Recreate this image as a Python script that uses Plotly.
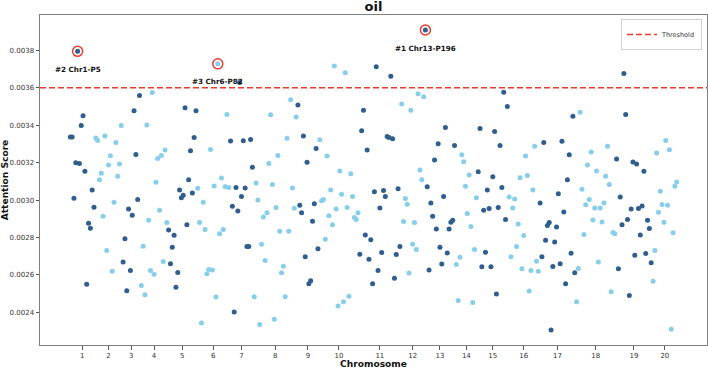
import plotly.graph_objects as go

# ---------------- data ----------------
chromosomes = list(range(1, 21))
chr1 = [0.003337, 0.003337, 0.003010, 0.003200, 0.003795, 0.003196, 0.003399, 0.003451, 0.003154, 0.002551, 0.002876, 0.002850, 0.003054, 0.002962]
chr2 = [0.003332, 0.003319, 0.003109, 0.003143, 0.002914, 0.003342, 0.002731, 0.003188, 0.003237, 0.002620, 0.002988, 0.003308, 0.003127, 0.003193, 0.003399]
chr3 = [0.002670, 0.002793, 0.002516, 0.002953, 0.002624, 0.002919, 0.003477, 0.003244, 0.003003, 0.003559]
chr4 = [0.002544, 0.002754, 0.002494, 0.003401, 0.002892, 0.002624, 0.003575, 0.002604, 0.003095, 0.003223, 0.002946, 0.003239, 0.002672, 0.003268, 0.002880]
chr5 = [0.002841, 0.002660, 0.002748, 0.002812, 0.002535, 0.002613, 0.003054, 0.003013, 0.003026, 0.003493, 0.002869, 0.003109, 0.003264, 0.003038, 0.003335, 0.003477]
chr6 = [0.003063, 0.002880, 0.002343, 0.002988, 0.002843, 0.002607, 0.002629, 0.003271, 0.002626, 0.003076, 0.002482, 0.003728, 0.002820, 0.003118, 0.002843, 0.003072, 0.003458, 0.003067]
chr7 = [0.003316, 0.002967, 0.002402, 0.003067, 0.002942, 0.003628, 0.003020, 0.003317, 0.003065, 0.002752, 0.002752, 0.003324, 0.003175]
chr8 = [0.002484, 0.003092, 0.003000, 0.002335, 0.002764, 0.002910, 0.002677, 0.002933, 0.003196, 0.003456, 0.003083, 0.002363, 0.002960, 0.003239, 0.002834, 0.002612, 0.002647, 0.002484, 0.003330, 0.002834, 0.003536, 0.003065, 0.002956, 0.003444]
chr9 = [0.003508, 0.002973, 0.002933, 0.003342, 0.002697, 0.003202, 0.002553, 0.002569, 0.002887, 0.002980, 0.003276, 0.002740]
chr10 = [0.003323, 0.002997, 0.003003, 0.002791, 0.003236, 0.002916, 0.003054, 0.002869, 0.003717, 0.002953, 0.002434, 0.003156, 0.003031, 0.002457, 0.003680, 0.002960, 0.002487, 0.003141, 0.003020, 0.002907, 0.002896, 0.002933]
chr11 = [0.002711, 0.003371, 0.003480, 0.002814, 0.003268, 0.002684, 0.002788, 0.002553, 0.003045, 0.003712, 0.002624, 0.002958, 0.002720, 0.003052, 0.003020, 0.003340, 0.003335, 0.003662, 0.003328, 0.002583, 0.002710, 0.003061, 0.002752]
chr12 = [0.003513, 0.002886, 0.003008, 0.002978, 0.002610, 0.003480, 0.002764, 0.002880, 0.002736, 0.003568, 0.003161, 0.003109, 0.003552]
chr13 = [0.003909, 0.003071, 0.002627, 0.002985, 0.002914, 0.003214, 0.002846, 0.003301, 0.002748, 0.002658, 0.003019, 0.003388, 0.002718, 0.002846, 0.002882, 0.002892, 0.003292]
chr14 = [0.002656, 0.002463, 0.002695, 0.003243, 0.003205, 0.003074, 0.002929, 0.003134, 0.002859, 0.002453, 0.002736, 0.003012]
chr15 = [0.003152, 0.003383, 0.002644, 0.002946, 0.002722, 0.003054, 0.002955, 0.002644, 0.003125, 0.003367, 0.002498, 0.002960, 0.003292, 0.003068, 0.003577, 0.002896, 0.003500]
chr16 = [0.003017, 0.002697, 0.002958, 0.003006, 0.002752, 0.002873, 0.003120, 0.002633, 0.002811, 0.003236, 0.003132, 0.002514, 0.002624, 0.003054, 0.003288, 0.002674, 0.002620]
chr17 = [0.002985, 0.002697, 0.003308, 0.002786, 0.002865, 0.002880, 0.002306, 0.002645, 0.002776, 0.002857, 0.003034, 0.002660, 0.003314, 0.002937, 0.002553, 0.003109, 0.003243, 0.002716, 0.003448, 0.002612]
chr18 = [0.002457, 0.002635, 0.003469, 0.003058, 0.002816, 0.002975, 0.003188, 0.003003, 0.003257, 0.002894, 0.002958, 0.003156, 0.002670, 0.002958, 0.002883, 0.002985, 0.003127, 0.003288, 0.003084, 0.002510, 0.002827, 0.002820]
chr19 = [0.003220, 0.002633, 0.003017, 0.002869, 0.003676, 0.003458, 0.002896, 0.002490, 0.002953, 0.003204, 0.002706, 0.003193, 0.002955, 0.002814, 0.002969, 0.003154, 0.002715, 0.002892, 0.002848, 0.002665]
chr20 = [0.002567, 0.002731, 0.003252, 0.002935, 0.003047, 0.002976, 0.002882, 0.003319, 0.002973, 0.003269, 0.002310, 0.002825, 0.003074, 0.003097]
threshold = 0.0036
y_tick_values = [0.0024, 0.0026, 0.0028, 0.0030, 0.0032, 0.0034, 0.0036, 0.0038]
top_n = 3

# ---------------- styling ----------------
DARK = "#2F5E8E"
LIGHT = "#87CEEB"
RED = "#EE3A2B"
FONT = "DejaVu Sans"

per_chrom = [chr1, chr2, chr3, chr4, chr5, chr6, chr7, chr8, chr9, chr10,
             chr11, chr12, chr13, chr14, chr15, chr16, chr17, chr18, chr19, chr20]

fig = go.Figure()

all_x, all_y, all_c = [], [], []
tick_pos = []
start = 0
for c, vals in zip(chromosomes, per_chrom):
    xs = list(range(start, start + len(vals)))
    tick_pos.append(sum(xs) / len(xs))
    fig.add_trace(go.Scatter(
        x=xs, y=vals, mode="markers",
        marker=dict(size=5, color=DARK if c % 2 == 1 else LIGHT, line=dict(width=0)),
        showlegend=False, hoverinfo="skip"))
    all_x += xs
    all_y += vals
    all_c += [c] * len(vals)
    start += len(vals)

n = len(all_x)
xmin, xmax = min(all_x), max(all_x)
xpad = 0.05 * (xmax - xmin)
ymin, ymax = min(all_y), max(all_y)
ypad = 0.05 * (ymax - ymin)
xr = [xmin - xpad, xmax + xpad]
yr = [ymin - ypad, ymax + ypad]

# threshold line
fig.add_trace(go.Scatter(
    x=xr, y=[threshold, threshold], mode="lines",
    line=dict(color=RED, width=1.5, dash="6px,3px"),
    name="Threshold", showlegend=True, hoverinfo="skip"))

# top hits
order = sorted(range(n), key=lambda i: all_y[i], reverse=True)[:top_n]
fig.add_trace(go.Scatter(
    x=[all_x[i] for i in order], y=[all_y[i] for i in order], mode="markers",
    marker=dict(symbol="circle-open", size=10, color=RED, line=dict(width=1.5)),
    showlegend=False, hoverinfo="skip"))
for rank, i in enumerate(order, start=1):
    fig.add_annotation(
        x=all_x[i], y=all_y[i], yshift=-18, showarrow=False,
        text=f"<b>#{rank} Chr{all_c[i]}-P{all_x[i] + 1}</b>",
        font=dict(family=FONT, size=7.2, color="#111111"))

axis_common = dict(
    showgrid=False, zeroline=False, showline=True, mirror=True,
    linecolor="#7f7f7f", linewidth=1, ticks="outside", ticklen=3.5,
    tickwidth=0.8, tickcolor="#555555",
    tickfont=dict(family=FONT, size=7, color="#333333"))

fig.update_layout(
    width=708, height=369,
    margin=dict(l=40, r=1, t=15, b=24),
    paper_bgcolor="white", plot_bgcolor="white",
    title=dict(text="<b>oil</b>", x=0.5, xref="paper", y=1 - 6.5 / 369,
               yanchor="middle", xanchor="center",
               font=dict(family=FONT, size=13, color="#111111")),
    xaxis=dict(range=xr, tickmode="array", tickvals=tick_pos,
               ticktext=[str(c) for c in chromosomes],
               title=dict(text="<b>Chromosome</b>", standoff=2,
                          font=dict(family=FONT, size=9.1, color="#111111")),
               **axis_common),
    yaxis=dict(range=yr, tickmode="array", tickvals=y_tick_values,
               ticktext=[f"{v:.4f}" for v in y_tick_values],
               title=dict(text="<b>Attention Score</b>", standoff=2,
                          font=dict(family=FONT, size=9.1, color="#111111")),
               **axis_common),
    legend=dict(x=1 - 5 / 667, y=1 - 4 / 330, xanchor="right", yanchor="top",
                bgcolor="white", bordercolor="#d0d0d0", borderwidth=1,
                font=dict(family=FONT, size=6.5, color="#333333"),
                itemwidth=30, tracegroupgap=0),
    showlegend=True,
)

fig.write_html("out.html")
